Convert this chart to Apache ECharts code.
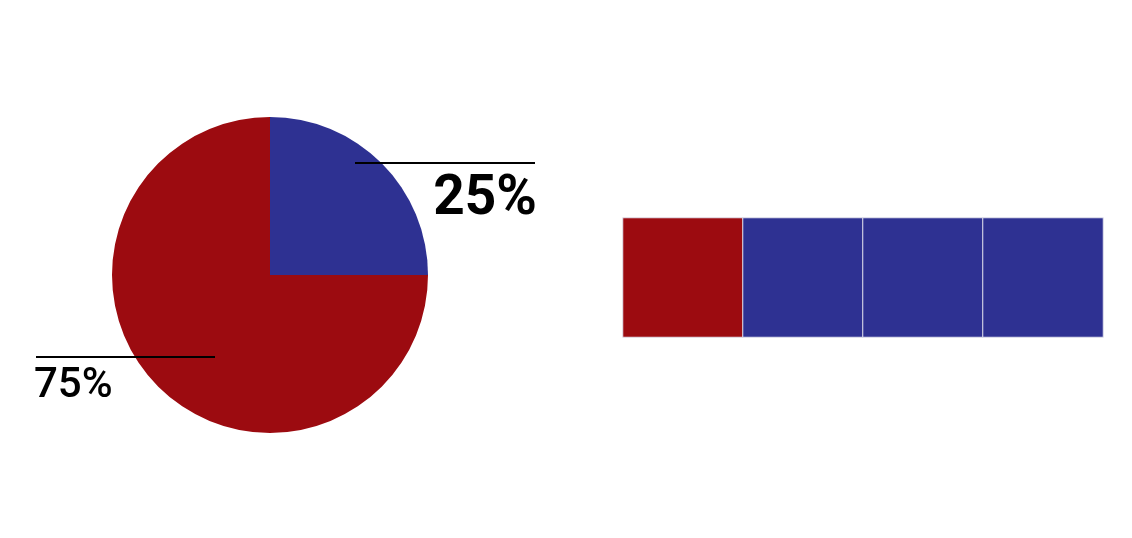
<!DOCTYPE html>
<html>
<head>
<meta charset="utf-8">
<script src="https://cdn.jsdelivr.net/npm/echarts@6/dist/echarts.min.js"></script>
<style>
  html, body { margin: 0; padding: 0; background: #fff; }
  #chart { width: 1132px; height: 538px; }
</style>
</head>
<body>
<div id="chart"></div>
<script>
// pie slices (clockwise from 12 o'clock)
const sliceLabels = ["25%", "75%"];
const sliceValues = [25, 75];
// waffle cells, left to right: index into the slices above
const waffleCells = [1, 0, 0, 0];

const palette = ["#2e3192", "#9c0b10"];

// label placement for each slice
const labelSpots = [
    { x: 537, y: 200, align: "right", line: [355, 163, 535, 163], size: 55, weight: "bold" },
    { x: 34, y: 386, align: "left", line: [36, 357, 215, 357], size: 42, weight: 500 },
];

let chart = echarts.init(document.getElementById("chart"));

let chartOption = {
    animation: false,
    grid: {
        left: 623,
        top: 218,
        width: 480,
        height: 119,
    },
    xAxis: {
        type: "category",
        data: waffleCells.map((c, i) => i),
        show: false,
    },
    yAxis: {
        type: "category",
        data: [0],
        show: false,
    },
    // leader lines sit on top of the pie
    graphic: labelSpots.map((spot) => ({
        type: "line",
        z: 100,
        silent: true,
        shape: { x1: spot.line[0], y1: spot.line[1], x2: spot.line[2], y2: spot.line[3] },
        style: { stroke: "#000", lineWidth: 2 },
    })),
    series: [
        {
            type: "pie",
            center: [270, 275],
            radius: 158,
            startAngle: 90,
            clockwise: true,
            silent: true,
            data: sliceValues.map((v, i) => ({
                value: v,
                name: sliceLabels[i],
                itemStyle: { color: palette[i] },
                label: {
                    fontSize: labelSpots[i].size,
                    fontWeight: labelSpots[i].weight,
                },
            })),
            label: {
                show: true,
                position: "outside",
                formatter: "{b}",
                color: "#000",
                fontFamily: "Roboto",
            },
            labelLine: { show: false },
            labelLayout: (params) => {
                const spot = labelSpots[params.dataIndex];
                return {
                    x: spot.x,
                    y: spot.y,
                    align: spot.align,
                    verticalAlign: "middle",
                };
            },
        },
        {
            type: "heatmap",
            silent: true,
            data: waffleCells.map((s, i) => ({
                value: [i, 0, sliceValues[s]],
                itemStyle: { color: palette[s] },
            })),
            itemStyle: {
                borderColor: "#e4e4ee",
                borderWidth: 1,
            },
        },
    ],
};

chart.setOption(chartOption);
</script>
</body>
</html>
